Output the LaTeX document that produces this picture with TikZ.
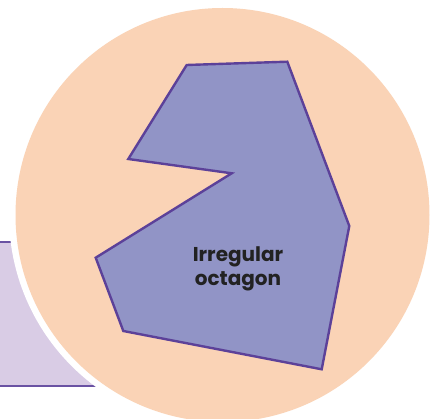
\documentclass[tikz,border=0pt]{standalone}
\usepackage{fontspec}
\setmainfont{Poppins}
\usepackage{tikz}
\definecolor{peach}{HTML}{FAD3B6}
\definecolor{octfill}{HTML}{9194C6}
\definecolor{octline}{HTML}{5C4199}
\definecolor{lilac}{HTML}{D9CCE5}
\definecolor{lilacline}{HTML}{6A52A3}
\definecolor{inkdark}{HTML}{222222}
\tikzset{
  backdisc/.style={fill=peach},
  gapdisc/.style={fill=white},
  sidepanel/.style={fill=lilac},
  panelline/.style={draw=lilacline, line width=2pt},
  octshape/.style={fill=octfill, draw=octline, line width=2.4pt, line join=miter},
  shapelabel/.style={font=\bfseries\fontsize{20}{24}\selectfont, text=inkdark, align=center}
}
\begin{document}
\begin{tikzpicture}[x=1pt, y=-1pt]
  \useasboundingbox (0,0) rectangle (437,419);
  \clip (0,0) rectangle (437,419);
  % panel behind the disc
  \fill[sidepanel] (0,242) rectangle (150,386);
  \draw[panelline] (0,242) -- (150,242);
  \draw[panelline] (0,386) -- (150,386);
  \fill[gapdisc] (222.5,215) circle (213.5);
  \fill[backdisc] (222.5,215) circle (207);
  % the octagon
  \draw[octshape] (186.7,65) -- (287.3,61.7) -- (349.3,226) -- (321.7,369.3)
    -- (123.3,331) -- (95.7,257.7) -- (231.7,173.3) -- (128.3,159) -- cycle;
  \node[shapelabel] (octlabel) at (238,269) {Irregular\\octagon};
\end{tikzpicture}
\end{document}
